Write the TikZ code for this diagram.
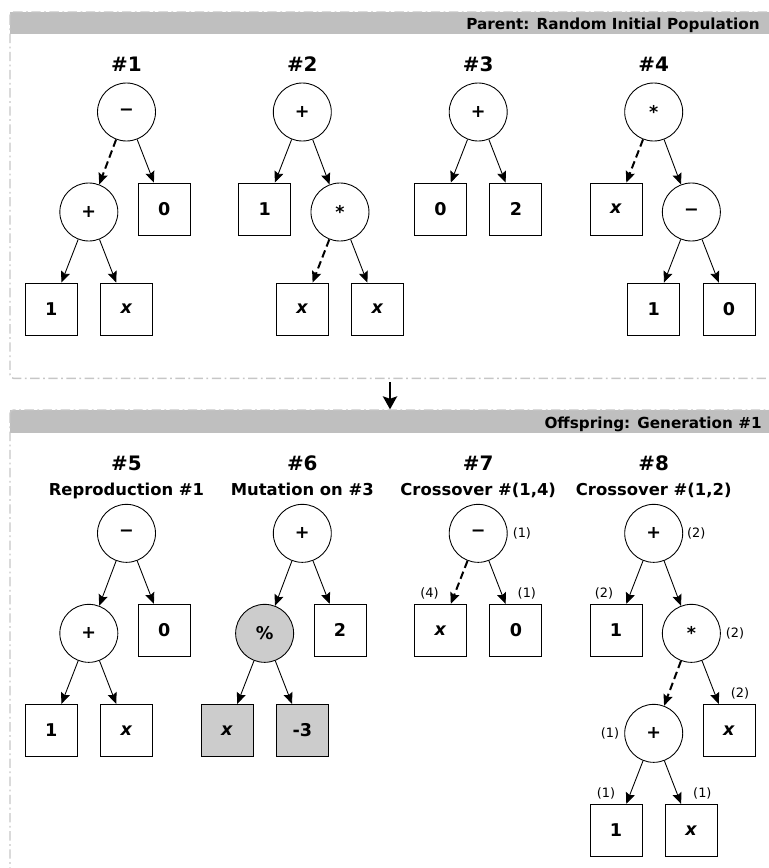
\documentclass[tikz,border=0pt]{standalone}
\usepackage{fontspec}
\setmainfont{DejaVu Sans}
\usetikzlibrary{positioning, arrows.meta}

\begin{document}
\begin{tikzpicture}[auto, node distance=3cm, on grid, line width=0.75pt,
    >={Stealth[length=9.5pt, width=8pt, inset=1.5pt]},
    op/.style={draw, circle, minimum size=1.74cm, inner sep=0pt, font=\bfseries\fontsize{15}{17}\selectfont},
    leaf/.style={draw, rectangle, minimum size=1.56cm, inner sep=0pt, font=\bfseries\fontsize{15}{17}\selectfont},
    mutated/.style={fill=gray!40},
    cutedge/.style={line width=1.7pt, dash pattern=on 6.5pt off 3.5pt},
    every label/.style={font=\fontsize{11}{13}\selectfont, inner sep=0pt},
    label distance=4pt,
    side/.style={label distance=6pt},
    title/.style={anchor=base, font=\bfseries\fontsize{17}{20}\selectfont},
    subtitle/.style={anchor=base, font=\bfseries\fontsize{14}{17}\selectfont},
    panel/.style={draw=gray!45, line width=1.2pt, dash pattern=on 8pt off 3pt on 1.5pt off 3pt, rounded corners=3pt},
    bar/.style={fill=gray!50},
    bartext/.style={anchor=base east, font=\bfseries\fontsize{13}{15}\selectfont}
]

    \useasboundingbox (0,0) rectangle (23.07,-26.04);
    \clip (0,0) rectangle (23.07,-26.04);

    % Panels
    \fill [bar] (0.3,-0.36) rectangle (23.4,-1.035);
    \draw [panel] (0.3,-0.36) rectangle (23.4,-11.35);
    \node [bartext] (h1) at (22.92,-0.885) {Parent: Random Initial Population};

    \fill [bar] (0.3,-12.3) rectangle (23.4,-12.975);
    \draw [panel] (0.3,-12.3) rectangle (23.4,-27);
    \node [bartext] (h2) at (22.98,-12.86) {Offspring: Generation \#1};

    \coordinate (pa) at (11.7,-11.46);
    \coordinate (pb) at (11.7,-12.28);
    \draw [->, line width=2.2pt, >={Stealth[length=11pt, width=12pt, inset=2pt]}] (pa) -- (pb);

    % Titles
    \node [title] (t1) at (3.795,-2.15) {\#1};
    \node [title] (t2) at (9.069,-2.15) {\#2};
    \node [title] (t3) at (14.346,-2.15) {\#3};
    \node [title] (t4) at (19.611,-2.15) {\#4};
    \node [title] (t5) at (3.795,-14.1) {\#5};
    \node [title] (t6) at (9.069,-14.1) {\#6};
    \node [title] (t7) at (14.346,-14.1) {\#7};
    \node [title] (t8) at (19.611,-14.1) {\#8};
    \node [subtitle] (s5) at (3.795,-14.85) {Reproduction \#1};
    \node [subtitle] (s6) at (9.069,-14.85) {Mutation on \#3};
    \node [subtitle] (s7) at (14.346,-14.85) {Crossover \#(1,4)};
    \node [subtitle] (s8) at (19.611,-14.85) {Crossover \#(1,2)};

    % Tree 1
    \node [op] (r1) at (3.795,-3.36) {−};
    \node [op, below left=3cm and 1.13cm of r1] (r1l) {+};
    \node [leaf, below right=2.91cm and 1.13cm of r1] (r1r) {0};
    \node [leaf, below left=2.91cm and 1.13cm of r1l] (r1ll) {1};
    \node [leaf, below right=2.91cm and 1.13cm of r1l] (r1lr) {\textit{x}};

    % Tree 2
    \node [op] (r2) at (9.069,-3.36) {+};
    \node [leaf, below left=2.91cm and 1.13cm of r2] (r2l) {1};
    \node [op, below right=3cm and 1.13cm of r2] (r2r) {*};
    \node [leaf, below left=2.91cm and 1.13cm of r2r] (r2rl) {\textit{x}};
    \node [leaf, below right=2.91cm and 1.13cm of r2r] (r2rr) {\textit{x}};

    % Tree 3
    \node [op] (r3) at (14.346,-3.36) {+};
    \node [leaf, below left=2.91cm and 1.13cm of r3] (r3l) {0};
    \node [leaf, below right=2.91cm and 1.13cm of r3] (r3r) {2};

    % Tree 4
    \node [op] (r4) at (19.611,-3.36) {*};
    \node [leaf, below left=2.91cm and 1.13cm of r4] (r4l) {\textit{x}};
    \node [op, below right=3cm and 1.13cm of r4] (r4r) {−};
    \node [leaf, below left=2.91cm and 1.13cm of r4r] (r4rl) {1};
    \node [leaf, below right=2.91cm and 1.13cm of r4r] (r4rr) {0};

    % Tree 5
    \node [op] (r5) at (3.795,-16.0) {−};
    \node [op, below left=3cm and 1.13cm of r5] (r5l) {+};
    \node [leaf, below right=2.91cm and 1.13cm of r5] (r5r) {0};
    \node [leaf, below left=2.91cm and 1.13cm of r5l] (r5ll) {1};
    \node [leaf, below right=2.91cm and 1.13cm of r5l] (r5lr) {\textit{x}};

    % Tree 6
    \node [op] (r6) at (9.069,-16.0) {+};
    \node [op, mutated, below left=3cm and 1.13cm of r6] (r6l) {\%};
    \node [leaf, below right=2.91cm and 1.13cm of r6] (r6r) {2};
    \node [leaf, mutated, below left=2.91cm and 1.13cm of r6l] (r6ll) {\textit{x}};
    \node [leaf, mutated, below right=2.91cm and 1.13cm of r6l] (r6lr) {-3};

    % Tree 7
    \node [op, side, label=right:(1)] (r7) at (14.346,-16.0) {−};
    \node [leaf, label={[xshift=-0.33cm]above:(4)}, below left=2.91cm and 1.13cm of r7] (r7l) {\textit{x}};
    \node [leaf, label={[xshift=0.33cm]above:(1)}, below right=2.91cm and 1.13cm of r7] (r7r) {0};

    % Tree 8
    \node [op, label={[xshift=-1pt]right:(2)}] (r8) at (19.611,-16.0) {+};
    \node [leaf, label={[xshift=-0.36cm]above:(2)}, below left=2.91cm and 1.13cm of r8] (r8l) {1};
    \node [op, side, label=right:(2), below right=3cm and 1.13cm of r8] (r8r) {*};
    \node [op, side, label=left:(1), below left=3cm and 1.13cm of r8r] (r8rl) {+};
    \node [leaf, label={[xshift=0.33cm]above:(2)}, below right=2.91cm and 1.13cm of r8r] (r8rr) {\textit{x}};
    \node [leaf, label={[xshift=-0.3cm]above:(1)}, below left=2.91cm and 1.13cm of r8rl] (r8rll) {1};
    \node [leaf, label={[xshift=0.33cm]above:(1)}, below right=2.91cm and 1.13cm of r8rl] (r8rlr) {\textit{x}};

    % Arrows
    \draw[->, cutedge] (r1) -- (r1l);
    \draw[->] (r1) -- (r1r);
    \draw[->] (r1l) -- (r1ll);
    \draw[->] (r1l) -- (r1lr);

    \draw[->] (r2) -- (r2l);
    \draw[->] (r2) -- (r2r);
    \draw[->, cutedge] (r2r) -- (r2rl);
    \draw[->] (r2r) -- (r2rr);

    \draw[->] (r3) -- (r3l);
    \draw[->] (r3) -- (r3r);

    \draw[->, cutedge] (r4) -- (r4l);
    \draw[->] (r4) -- (r4r);
    \draw[->] (r4r) -- (r4rl);
    \draw[->] (r4r) -- (r4rr);

    \draw[->] (r5) -- (r5l);
    \draw[->] (r5) -- (r5r);
    \draw[->] (r5l) -- (r5ll);
    \draw[->] (r5l) -- (r5lr);

    \draw[->] (r6) -- (r6l);
    \draw[->] (r6) -- (r6r);
    \draw[->] (r6l) -- (r6ll);
    \draw[->] (r6l) -- (r6lr);

    \draw[->, cutedge] (r7) -- (r7l);
    \draw[->] (r7) -- (r7r);

    \draw[->] (r8) -- (r8l);
    \draw[->] (r8) -- (r8r);
    \draw[->, cutedge] (r8r) -- (r8rl);
    \draw[->] (r8r) -- (r8rr);
    \draw[->] (r8rl) -- (r8rll);
    \draw[->] (r8rl) -- (r8rlr);

\end{tikzpicture}
\end{document}
